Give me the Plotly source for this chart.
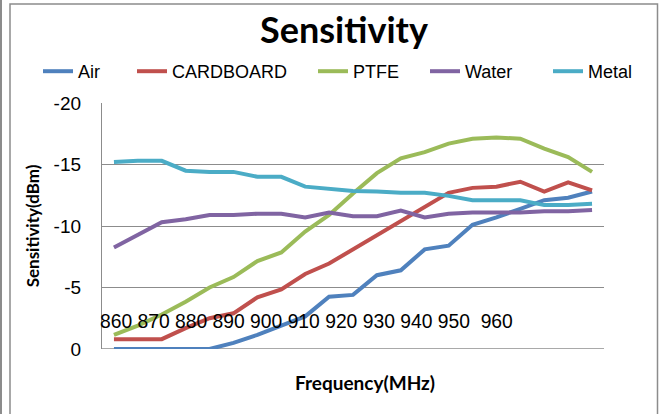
import plotly.graph_objects as go

freqs = ["860", "865", "870", "875", "880", "885", "890", "895", "900", "905", "910",
         "915", "920", "925", "930", "935", "940", "945", "950", "955", "960"]
air = [0, 0, 0, 0, 0, -0.5, -1.15, -1.9, -2.65, -4.25, -4.4, -6.0, -6.4, -8.1, -8.4,
       -10.1, -10.7, -11.4, -12.1, -12.3, -12.8]
cardboard = [-0.8, -0.8, -0.8, -1.7, -2.5, -2.9, -4.2, -4.85, -6.1, -6.95, -8.1, -9.25,
             -10.4, -11.55, -12.7, -13.1, -13.2, -13.6, -12.8, -13.55, -12.9]
ptfe = [-1.15, -1.9, -2.8, -3.85, -5.0, -5.85, -7.15, -7.85, -9.55, -10.9, -12.65, -14.3,
        -15.5, -16.0, -16.7, -17.1, -17.2, -17.1, -16.3, -15.6, -14.4]
water = [-8.25, -9.3, -10.3, -10.55, -10.9, -10.9, -11.0, -11.0, -10.7, -11.1, -10.8, -10.8,
         -11.25, -10.7, -11.0, -11.1, -11.1, -11.1, -11.2, -11.2, -11.3]
metal = [-15.2, -15.3, -15.3, -14.5, -14.4, -14.4, -14.0, -14.0, -13.2, -13.05, -12.85, -12.8,
         -12.7, -12.7, -12.45, -12.1, -12.1, -12.1, -11.7, -11.7, -11.8]
series_names = ["Air", "CARDBOARD", "PTFE", "Water", "Metal"]
series_colors = ["#4F81BD", "#C0504D", "#9BBB59", "#8064A2", "#4BACC6"]
freq_labels = ["860", "870", "880", "890", "900", "910", "920", "930", "940", "950", "960"]
y_ticks = [-20, -15, -10, -5, 0]

ARIAL = "Liberation Sans, Arial, sans-serif"
BOLD = "Lato, Carlito, sans-serif"

W, H = 659, 414
L, R, T, B = 102, 55, 103, 65
pw, ph = W - L - R, H - T - B

def px(x):
    return (x - L) / pw

def py(y):
    return (H - B - y) / ph

# left pixel where each legend entry's line sample starts
legend_starts = [35, 129, 310, 422, 545]
legend_ids = ["legend", "legend2", "legend3", "legend4", "legend5"]

fig = go.Figure()
for name, vals, col, lid in zip(series_names, [air, cardboard, ptfe, water, metal],
                                series_colors, legend_ids):
    fig.add_trace(go.Scatter(x=freqs, y=vals, name=name, mode="lines",
                             line=dict(color=col, width=4), legend=lid))

legend_layout = {}
for lid, start in zip(legend_ids, legend_starts):
    legend_layout[lid] = dict(orientation="h", x=px(start + 3), xanchor="left",
                              y=py(71.5), yanchor="middle",
                              font=dict(family=ARIAL, size=18, color="black"),
                              bgcolor="rgba(0,0,0,0)", itemclick=False)

fig.update_layout(
    width=W, height=H,
    margin=dict(l=L, r=R, t=T, b=B, autoexpand=False),
    paper_bgcolor="white", plot_bgcolor="white",
    showlegend=True,
    title=dict(text="<b>Sensitivity</b>", xref="container", x=344 / W, xanchor="center",
               y=1 - 30 / H, yanchor="middle",
               font=dict(family=BOLD, size=36, color="black")),
    xaxis=dict(type="category", range=[-0.5, 20.5], showticklabels=False,
               showgrid=False, zeroline=False, showline=False, ticks=""),
    yaxis=dict(range=[0, -20], tickvals=y_ticks, ticktext=[str(v) for v in y_ticks],
               showgrid=True, gridcolor="#8C8C8C", gridwidth=1.3,
               zeroline=False, showline=True, linecolor="#8C8C8C", linewidth=1.3,
               ticks="", ticklabelstandoff=16,
               tickfont=dict(family=ARIAL, size=19, color="black"),
               title=dict(text="<b>Sensitivity(dBm)</b>", standoff=9,
                          font=dict(family=BOLD, size=17, color="black"))),
    **legend_layout,
)

# bottom axis line at 0
fig.add_shape(type="line", xref="paper", yref="y", x0=0, x1=1, y0=0, y1=0,
              line=dict(color="#8C8C8C", width=1.3), layer="below")

# frequency labels typed across the plot
label_text = "&nbsp;".join(freq_labels[:-1]) + "&nbsp;&nbsp;" + freq_labels[-1]
fig.add_annotation(text=label_text, xref="paper", yref="y", x=px(98), y=-2.2,
                   xanchor="left", yanchor="middle", showarrow=False,
                   font=dict(family=ARIAL, size=19.3, color="black"))

# x axis title
fig.add_annotation(text="<b>Frequency(MHz)</b>", xref="paper", yref="paper",
                   x=px(365), y=py(382), xanchor="center", yanchor="middle",
                   showarrow=False, font=dict(family=BOLD, size=19, color="black"))

# chart frame
fig.add_shape(type="rect", xref="paper", yref="paper",
              x0=px(10), x1=px(657.5), y0=py(418), y1=py(4),
              line=dict(color="#8C8C8C", width=1.5), fillcolor="rgba(0,0,0,0)", layer="below")
fig.add_shape(type="line", xref="paper", yref="paper",
              x0=px(1), x1=px(1), y0=py(418), y1=py(0),
              line=dict(color="#8C8C8C", width=2))

fig.write_html("out.html", config={"displayModeBar": False},
               post_script="document.body.style.margin='0';document.body.style.overflow='hidden';")
